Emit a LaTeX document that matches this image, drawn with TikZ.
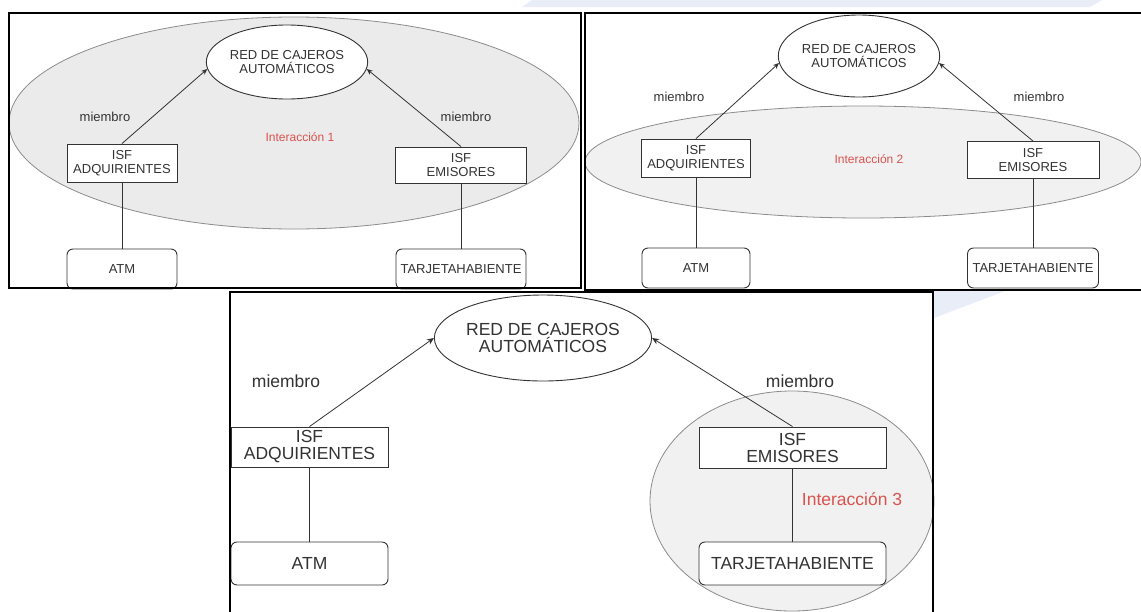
\documentclass[tikz,border=0pt]{standalone}
\usepackage{fontspec}
\setmainfont{Liberation Sans}
\usetikzlibrary{shapes.geometric,arrows.meta}
\definecolor{ink}{HTML}{333333}
\definecolor{zonefill}{HTML}{EBEBEB}
\definecolor{zonefilllight}{HTML}{F1F1F1}
\definecolor{zoneline}{HTML}{8C8C8C}
\definecolor{redtxt}{HTML}{D9534F}
\definecolor{swoosh}{HTML}{E9EDF7}

\begin{document}
\begin{tikzpicture}[x=1pt,y=-1pt,
  panelframe/.style={draw=black,line width=1.6pt},
  zone/.style={draw=zoneline,fill=zonefill,line width=0.8pt},
  netnode/.style={ellipse,draw=ink,fill=white,line width=0.9pt,inner sep=0pt,align=center,text=ink},
  isfnode/.style={rectangle,draw=ink,fill=white,line width=0.9pt,inner sep=0pt,align=center,text=ink},
  endnode/.style={isfnode,rounded corners=6pt},
  tagtext/.style={text=ink,inner sep=0pt},
  itagtext/.style={text=redtxt,inner sep=0pt},
  link/.style={draw=ink,line width=0.8pt},
  member/.style={link,-{Stealth[length=6pt,width=5pt]}},
  memberL/.style={link,-{Stealth[length=7pt,width=6pt]}},
  txtS/.style={font=\fontsize{13}{14}\selectfont},
  txtL/.style={font=\fontsize{17.5}{17}\selectfont},
]
\clip (0,0) rectangle (1141,611);
\fill[white] (0,0) rectangle (1141,611);

% light background swoosh of the slide
\fill[swoosh] (522,7) -- (532,0) -- (1102,0) -- (1090,7) -- cycle;
\fill[swoosh] (934,291) -- (1005,291) -- (934,318) -- cycle;

% ---------------- Interacción 1 ----------------
\fill[white] (9,13) rectangle (581,288);
\draw[zone] (294,123) ellipse [x radius=285pt, y radius=106pt];
\node[netnode,txtS,minimum width=132pt,minimum height=74pt] (red1) at (287,62) {RED DE CAJEROS\\AUTOMÁTICOS};
\node[isfnode,txtS,minimum width=110pt,minimum height=38pt] (adq1) at (122,163) {ISF\\ADQUIRIENTES};
\node[isfnode,txtS,minimum width=131pt,minimum height=36pt] (emi1) at (461,165) {ISF\\EMISORES};
\node[endnode,txtS,minimum width=110pt,minimum height=40pt] (atm1) at (122,269) {ATM};
\node[endnode,txtS,minimum width=130pt,minimum height=40pt] (tar1) at (461,269) {TARJETAHABIENTE};
\node[tagtext,txtS] (mA1) at (105,117) {miembro};
\node[tagtext,txtS] (mE1) at (466,117) {miembro};
\node[itagtext,font=\fontsize{12}{13}\selectfont] (int1) at (300,137) {Interacción 1};
\draw[member] (adq1.north) -- (red1.185);
\draw[member] (emi1.north) -- (red1.-5);
\draw[link] (adq1.south) -- (adq1.south |- atm1.north);
\draw[link] (emi1.south) -- (emi1.south |- tar1.north);
\draw[panelframe] (9,13) rectangle (581,288);

% ---------------- Interacción 2 ----------------
\fill[white] (584,13) rectangle (1145,290);
\draw[zone,fill=zonefilllight] (863,162) ellipse [x radius=278pt, y radius=56pt];
\node[netnode,txtS,minimum width=130pt,minimum height=82pt] (red2) at (859,56) {RED DE CAJEROS\\AUTOMÁTICOS};
\node[isfnode,txtS,minimum width=109pt,minimum height=38pt] (adq2) at (696,158) {ISF\\ADQUIRIENTES};
\node[isfnode,txtS,minimum width=132pt,minimum height=37pt] (emi2) at (1033,160) {ISF\\EMISORES};
\node[endnode,txtS,minimum width=108pt,minimum height=40pt] (atm2) at (696,268) {ATM};
\node[endnode,txtS,minimum width=131pt,minimum height=40pt] (tar2) at (1033,268) {TARJETAHABIENTE};
\node[tagtext,txtS] (mA2) at (679,97) {miembro};
\node[tagtext,txtS] (mE2) at (1039,97) {miembro};
\node[itagtext,font=\fontsize{12}{13}\selectfont] (int2) at (869,159) {Interacción 2};
\draw[member] (adq2.north) -- (red2.185);
\draw[member] (emi2.north) -- (red2.-5);
\draw[link] (adq2.south) -- (adq2.south |- atm2.north);
\draw[link] (emi2.south) -- (emi2.south |- tar2.north);
\draw[panelframe,line width=2.2pt] (585,13) rectangle (1145,290);

% ---------------- Interacción 3 ----------------
\fill[white] (230,292) rectangle (933,615);
\draw[zone,fill=zonefilllight] (792,501) ellipse [x radius=142pt, y radius=110pt];
\node[netnode,txtL,minimum width=186pt,minimum height=86pt] (red3) at (543,338) {RED DE CAJEROS\\AUTOMÁTICOS};
\node[isfnode,txtL,minimum width=157pt,minimum height=40pt] (adq3) at (309.5,447) {ISF\\ADQUIRIENTES};
\node[isfnode,txtL,minimum width=187pt,minimum height=41pt] (emi3) at (792.5,447.5) {ISF\\EMISORES};
\node[endnode,txtL,minimum width=157pt,minimum height=43pt] (atm3) at (309.5,563.5) {ATM};
\node[endnode,txtL,minimum width=187pt,minimum height=43pt] (tar3) at (792.5,563.5) {TARJETAHABIENTE};
\node[tagtext,txtL] (mA3) at (286,381) {miembro};
\node[tagtext,txtL] (mE3) at (800,381) {miembro};
\node[itagtext,txtL] (int3) at (852,499) {Interacción 3};
\draw[memberL] (adq3.north) -- (red3.west);
\draw[memberL] (emi3.north) -- (red3.east);
\draw[link] (adq3.south) -- (adq3.south |- atm3.north);
\draw[link] (emi3.south) -- (emi3.south |- tar3.north);
\draw[panelframe] (230,292) rectangle (933,615);
\end{tikzpicture}
\end{document}
